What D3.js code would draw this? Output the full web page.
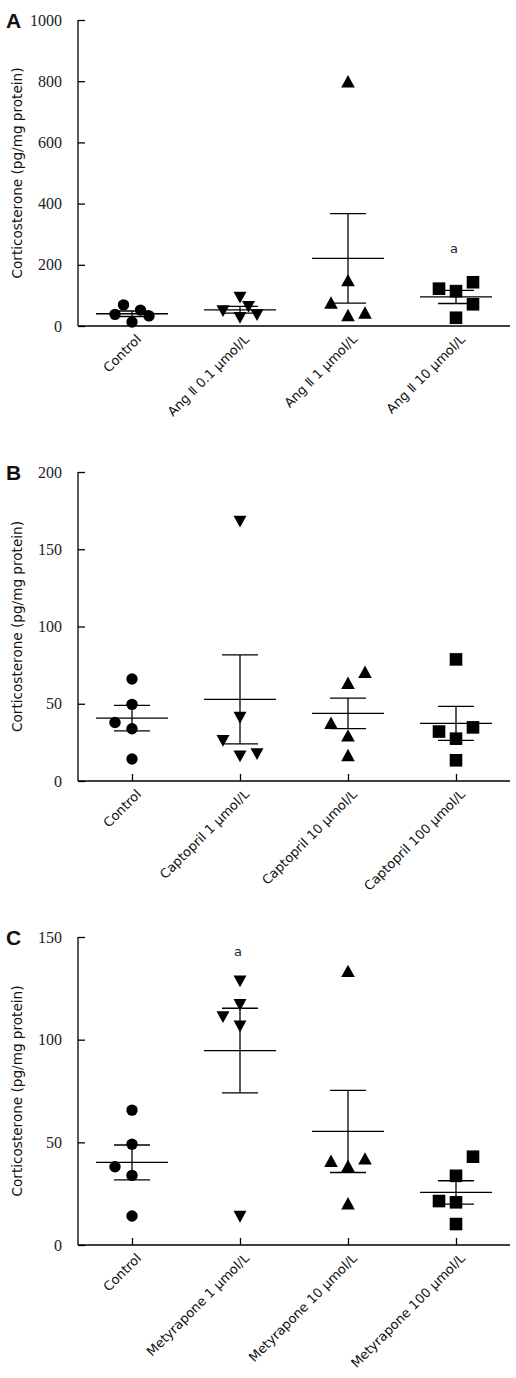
<!DOCTYPE html>
<html>
<head>
<meta charset="utf-8">
<script src="https://cdn.jsdelivr.net/npm/d3@7"></script>
<style>
  html, body { margin: 0; padding: 0; background: #fff; }
  svg { display: block; }
</style>
</head>
<body>
<svg id="chart" width="516" height="1378"></svg>
<script>
// ---------- Panel A ----------
const categoriesA = ["Control", "Ang \u2161 0.1 \u03bcmol/L", "Ang \u2161 1 \u03bcmol/L", "Ang \u2161 10 \u03bcmol/L"];
const valuesA = [[69, 38, 13, 52, 33], [93, 49, 27, 63, 36], [800, 150, 77, 36, 44], [122, 114, 143, 71, 27]];
const slotsA = [[-0.5, -1, 0, 0.5, 1], [0, -1, 0, 0.5, 1], [0, 0, -1, 0, 1], [-1, 0, 1, 1, 0]];
const meansA = [40, 53, 221, 95];
const semsA = [9, 11, 146, 21.5];
const ticksA = [0, 200, 400, 600, 800, 1000];
const annotA = [{ cat: 3, value: 255, text: "a" }];

// ---------- Panel B ----------
const categoriesB = ["Control", "Captopril 1 \u03bcmol/L", "Captopril 10 \u03bcmol/L", "Captopril 100 \u03bcmol/L"];
const valuesB = [[66, 49.6, 37.9, 33.8, 14.2], [168, 41, 26, 16, 17.5], [63.6, 70.7, 37.7, 29.5, 16.8], [78.7, 32, 34.7, 27.4, 13.4]];
const slotsB = [[0, 0, -1, 0, 0], [0, 0, -1, 0, 1], [0, 1, -1, 0, 0], [0, -1, 1, 0, 0]];
const meansB = [40.7, 52.8, 43.8, 37.3];
const semsB = [8.3, 28.8, 9.9, 11];
const ticksB = [0, 50, 100, 150, 200];
const annotB = [];

// ---------- Panel C ----------
const categoriesC = ["Control", "Metyrapone 1 \u03bcmol/L", "Metyrapone 10 \u03bcmol/L", "Metyrapone 100 \u03bcmol/L"];
const valuesC = [[65.7, 49.1, 38.1, 33.9, 14.1], [128.4, 117, 111, 106.5, 13.8], [133.5, 41, 42.2, 38.6, 20.3], [43, 33.7, 21.4, 20.8, 10.2]];
const slotsC = [[0, 0, -1, 0, 0], [0, 0, -1, 0, 0], [0, -1, 1, 0, 0], [1, 0, -1, 0, 0]];
const meansC = [40.2, 94.7, 55.3, 25.6];
const semsC = [8.5, 20.6, 20, 5.7];
const ticksC = [0, 50, 100, 150];
const annotC = [{ cat: 1, value: 143, text: "a" }];

const markerShapes = ["circle", "triangleDown", "triangleUp", "square"];

const svg = d3.select("#chart");

function markerPath(shape) {
  if (shape === "circle") return d3.symbol(d3.symbolCircle, Math.PI * 5.7 * 5.7)();
  if (shape === "square") return "M-6.3,-6.3H6.3V6.3H-6.3Z";
  if (shape === "triangleUp") return "M0,-6.2L6.8,6.2H-6.8Z";
  if (shape === "triangleDown") return "M0,6L6.5,-5.8H-6.5Z";
}

function drawPanel(cfg) {
  const g = svg.append("g");
  const x = d3.scalePoint().domain(d3.range(cfg.categories.length)).range([78, 510]).padding(0.5);
  const y = d3.scaleLinear().domain([0, cfg.ticks[cfg.ticks.length - 1]]).range([cfg.bottom, cfg.top]);
  const jit = 17;

  // y axis
  const yAxis = d3.axisLeft(y).tickValues(cfg.ticks).tickSize(-7).tickPadding(16).tickFormat(d3.format("d"));
  const ya = g.append("g").attr("transform", "translate(78,0)").call(yAxis);
  ya.select(".domain").attr("d", `M0,${cfg.top}V${cfg.bottom}`).attr("stroke", "#000").attr("stroke-width", 1.3);
  ya.selectAll(".tick line").attr("stroke", "#000").attr("stroke-width", 1.3);
  ya.selectAll(".tick text").attr("font-family", "'Liberation Serif', 'Times New Roman', serif").attr("font-size", 16).attr("fill", "#222");

  // x axis
  const xAxis = d3.axisBottom(x).tickSize(cfg.xTicks ? -7 : 0).tickFormat("");
  const xa = g.append("g").attr("transform", `translate(0,${cfg.bottom})`).call(xAxis);
  xa.select(".domain").attr("d", "M78,0H510").attr("stroke", "#000").attr("stroke-width", 1.3);
  xa.selectAll(".tick line").attr("stroke", "#000").attr("stroke-width", 1.3);

  // category labels
  g.selectAll("text.cat").data(cfg.categories).enter().append("text")
    .attr("class", "cat")
    .attr("transform", (d, i) => `translate(${x(i) + 10},${cfg.bottom + 14}) rotate(-45)`)
    .attr("text-anchor", "end")
    .attr("font-family", "'DejaVu Sans', Verdana, sans-serif")
    .attr("font-size", 13)
    .attr("fill", "#111")
    .text(d => d);

  // y title
  g.append("text")
    .attr("transform", `translate(22,${(cfg.top + cfg.bottom) / 2}) rotate(-90)`)
    .attr("text-anchor", "middle")
    .attr("font-family", "'DejaVu Sans', Verdana, sans-serif")
    .attr("font-size", 13.6)
    .attr("fill", "#111")
    .text("Corticosterone (pg/mg protein)");

  // panel letter
  g.append("text")
    .attr("x", 6).attr("y", cfg.top + 8)
    .attr("font-family", "'Liberation Sans', Arial, sans-serif")
    .attr("font-weight", "bold")
    .attr("font-size", 21)
    .attr("fill", "#111")
    .text(cfg.letter);

  // points
  cfg.values.forEach((vals, i) => {
    g.selectAll(null).data(vals.map((v, k) => ({ v, s: cfg.slots[i][k] }))).enter().append("path")
      .attr("d", markerPath(markerShapes[i]))
      .attr("transform", d => `translate(${x(i) + d.s * jit},${y(d.v)})`)
      .attr("fill", "#000");
  });

  // mean and SEM
  cfg.means.forEach((m, i) => {
    const cx = x(i);
    const lo = y(m - cfg.sems[i]), hi = y(m + cfg.sems[i]);
    g.append("line").attr("class", "ms").attr("x1", cx - 36).attr("x2", cx + 36).attr("y1", y(m)).attr("y2", y(m));
    g.append("line").attr("class", "ms").attr("x1", cx).attr("x2", cx).attr("y1", lo).attr("y2", hi);
    g.append("line").attr("class", "ms").attr("x1", cx - 18).attr("x2", cx + 18).attr("y1", lo).attr("y2", lo);
    g.append("line").attr("class", "ms").attr("x1", cx - 18).attr("x2", cx + 18).attr("y1", hi).attr("y2", hi);
  });
  g.selectAll("line.ms").attr("stroke", "#000").attr("stroke-width", 1.3);

  // annotations
  cfg.annot.forEach(a => {
    g.append("text")
      .attr("x", x(a.cat) - 2).attr("y", y(a.value))
      .attr("dy", "0.35em")
      .attr("text-anchor", "middle")
      .attr("font-family", "'DejaVu Sans', Verdana, sans-serif")
      .attr("font-size", 13)
      .attr("fill", "#1a2a3a")
      .text(a.text);
  });
}

drawPanel({ letter: "A", top: 20, bottom: 326, categories: categoriesA, values: valuesA, slots: slotsA, means: meansA, sems: semsA, ticks: ticksA, annot: annotA, xTicks: false });
drawPanel({ letter: "B", top: 472, bottom: 781, categories: categoriesB, values: valuesB, slots: slotsB, means: meansB, sems: semsB, ticks: ticksB, annot: annotB, xTicks: true });
drawPanel({ letter: "C", top: 937, bottom: 1245, categories: categoriesC, values: valuesC, slots: slotsC, means: meansC, sems: semsC, ticks: ticksC, annot: annotC, xTicks: true });
</script>
</body>
</html>
